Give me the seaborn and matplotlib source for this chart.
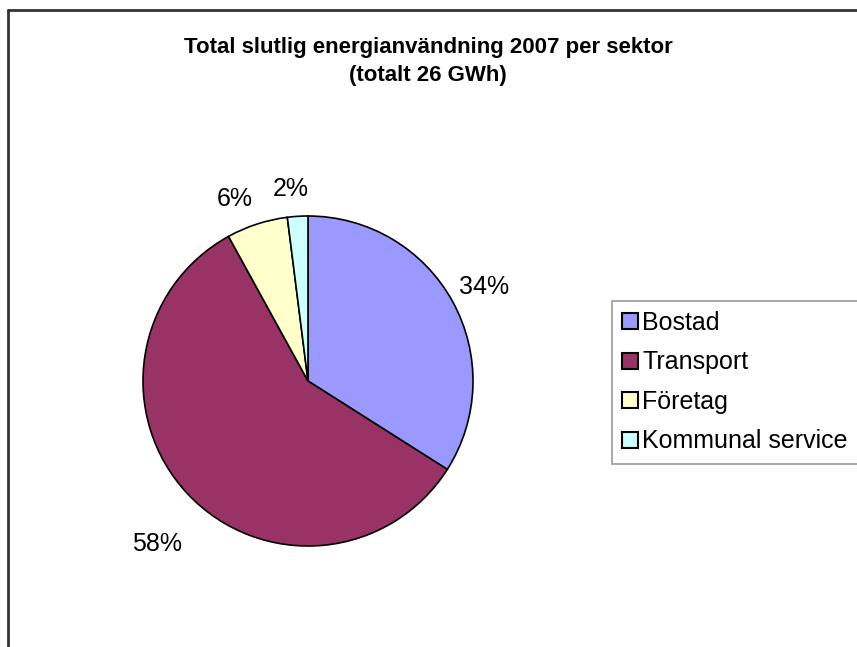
import matplotlib
matplotlib.use("Agg")
import numpy as np
import matplotlib.pyplot as plt
import seaborn as sns
from matplotlib.lines import Line2D
from matplotlib.patches import Patch

# data
sectors = ["Bostad", "Transport", "Företag", "Kommunal service"]
shares = [34, 58, 6, 2]
colors = ["#9999FF", "#993366", "#FFFFCC", "#CCFFFF"]

# label placement (radius units, degrees nudge) like excel's best fit
label_dist = [1.21, 1.35, 1.19, 1.17]
label_nudge = [-0.8, 4, 4, 1.5]

sns.set_theme(style="white")
plt.rcParams["font.family"] = ["Liberation Sans", "DejaVu Sans"]
plt.rcParams["text.color"] = "black"

W, H = 857, 647
fig = plt.figure(figsize=(W / 100, H / 100), dpi=100)
fig.patch.set_facecolor("white")

# pie centred at (308, 381) px with radius 165 px
cx, cy, r = 308, 381, 165
ax = fig.add_axes([(cx - r) / W, (H - cy - r) / H, 2 * r / W, 2 * r / H])
wedges, _ = ax.pie(
    shares, colors=colors, startangle=90, counterclock=False,
    wedgeprops=dict(edgecolor="black", linewidth=1.2),
)
ax.set_xlim(-1, 1)
ax.set_ylim(-1, 1)
ax.set_aspect("auto")
ax.axis("off")

total = sum(shares)
for w, v, d, n in zip(wedges, shares, label_dist, label_nudge):
    ang = np.deg2rad((w.theta1 + w.theta2) / 2 + n)
    ax.text(d * np.cos(ang), d * np.sin(ang), f"{100 * v / total:.0f}%",
            ha="center", va="center", fontsize=18, clip_on=False)

fig.text(428 / W, 1 - 47 / H, "Total slutlig energianvändning 2007 per sektor",
         ha="center", va="center", fontsize=16, fontweight="bold")
fig.text(428 / W, 1 - 76 / H, "(totalt 26 GWh)",
         ha="center", va="center", fontsize=16, fontweight="bold")

handles = [Patch(facecolor=c, edgecolor="black", linewidth=1.5) for c in colors]
leg = fig.legend(handles, sectors, loc="upper left",
                 bbox_to_anchor=(612 / W, 1 - 301 / H), frameon=True,
                 fancybox=False, fontsize=18, handlelength=0.62,
                 handleheight=0.62, handletextpad=0.2, labelspacing=0.62,
                 borderpad=0.4, borderaxespad=0)
leg.get_frame().set_edgecolor("#808080")
leg.get_frame().set_linewidth(1.2)

# chart area border (top and left edges visible)
fig.add_artist(Line2D([8 / W, 1], [1 - 10 / H, 1 - 10 / H], color="#333333", lw=2))
fig.add_artist(Line2D([8 / W, 8 / W], [0, 1 - 10 / H], color="#333333", lw=2))

fig.savefig("out.png", dpi=100)
